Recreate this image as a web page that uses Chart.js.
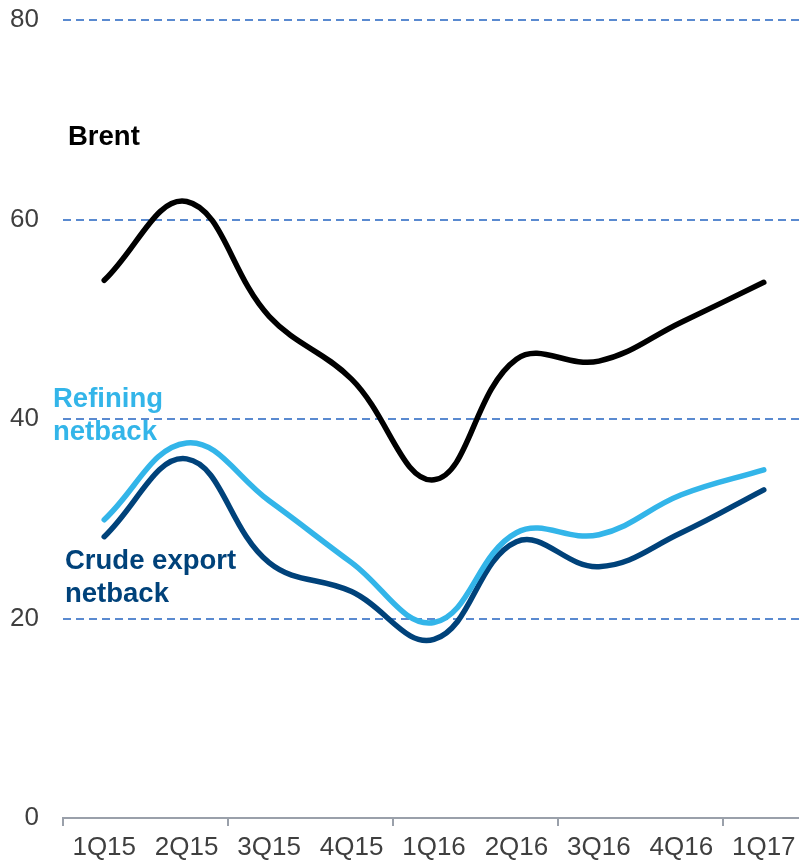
<!DOCTYPE html>
<html>
<head>
<meta charset="utf-8">
<script src="https://cdn.jsdelivr.net/npm/chart.js@4"></script>
<style>
  html, body { margin: 0; padding: 0; background: #ffffff; overflow: hidden; }
  #wrap { position: relative; width: 805px; height: 862px; }
</style>
</head>
<body>
<div id="wrap"><canvas id="c"></canvas></div>
<script>
const categories = ["1Q15", "2Q15", "3Q15", "4Q15", "1Q16", "2Q16", "3Q16", "4Q16", "1Q17"];
const brent = [53.9, 61.8, 50.3, 44.0, 33.9, 46.0, 45.8, 49.7, 53.7];
const refiningNetback = [29.9, 37.6, 31.8, 25.6, 19.6, 28.6, 28.4, 32.4, 34.9];
const crudeExportNetback = [28.2, 36.0, 25.6, 22.7, 17.9, 27.7, 25.2, 28.6, 32.9];
const yTicks = [0, 20, 40, 60, 80];

const COLORS = { brent: "#000000", refining: "#33b5e9", crude: "#00427a" };
const FONT = "'Liberation Sans', Arial, sans-serif";

const seriesLabels = [
  { lines: ["Brent"], color: COLORS.brent, x: 68, y: 145 },
  { lines: ["Refining", "netback"], color: COLORS.refining, x: 53, y: 407 },
  { lines: ["Crude export", "netback"], color: COLORS.crude, x: 65, y: 569 }
];

const labelPlugin = {
  id: "seriesLabels",
  afterDatasetsDraw(chart) {
    const ctx = chart.ctx;
    ctx.save();
    ctx.font = "bold 27.5px " + FONT;
    ctx.textAlign = "left";
    ctx.textBaseline = "alphabetic";
    seriesLabels.forEach(l => {
      ctx.fillStyle = l.color;
      l.lines.forEach((t, i) => ctx.fillText(t, l.x, l.y + i * 33));
    });
    ctx.restore();
  }
};

const lineStyle = { borderWidth: 5.5, tension: 0.4, pointRadius: 0, pointHoverRadius: 0, borderCapStyle: "round", borderJoinStyle: "round", fill: false };

new Chart(document.getElementById("c"), {
  type: "line",
  data: {
    labels: categories,
    datasets: [
      Object.assign({ label: "Brent", data: brent, borderColor: COLORS.brent }, lineStyle),
      Object.assign({ label: "Refining netback", data: refiningNetback, borderColor: COLORS.refining }, lineStyle),
      Object.assign({ label: "Crude export netback", data: crudeExportNetback, borderColor: COLORS.crude }, lineStyle)
    ]
  },
  options: {
    responsive: true,
    maintainAspectRatio: false,
    animation: false,
    layout: { padding: { top: 20, left: 0, right: 0, bottom: 0 } },
    plugins: { legend: { display: false }, tooltip: { enabled: false } },
    scales: {
      x: {
        offset: true,
        grid: {
          offset: true,
          drawOnChartArea: false,
          drawTicks: true,
          tickLength: 8,
          lineWidth: 2,
          color: (c) => (c.index % 2 === 0 ? "#9aa0aa" : "rgba(0,0,0,0)")
        },
        border: { display: true, color: "#9aa0aa", width: 2, dash: [8, 5] },
        ticks: { color: "#3f3f3f", font: { family: FONT, size: 26 }, padding: 6, maxRotation: 0, autoSkip: false },
        afterFit(scale) { scale.height = 44; }
      },
      y: {
        min: 0,
        max: 80,
        afterBuildTicks(scale) { scale.ticks = yTicks.map(v => ({ value: v })); },
        grid: {
          drawTicks: false,
          lineWidth: 2,
          color: (c) => (c.tick && c.tick.value === 0 ? "#d4d2cc" : "#5a8ad0")
        },
        border: { display: false, dash: [8, 5] },
        ticks: { color: "#3f3f3f", font: { family: FONT, size: 26 }, padding: 24 },
        afterFit(scale) { scale.width = 63; scale.paddingTop = 0; scale.paddingBottom = 0; }
      }
    }
  },
  plugins: [labelPlugin]
});
</script>
</body>
</html>
